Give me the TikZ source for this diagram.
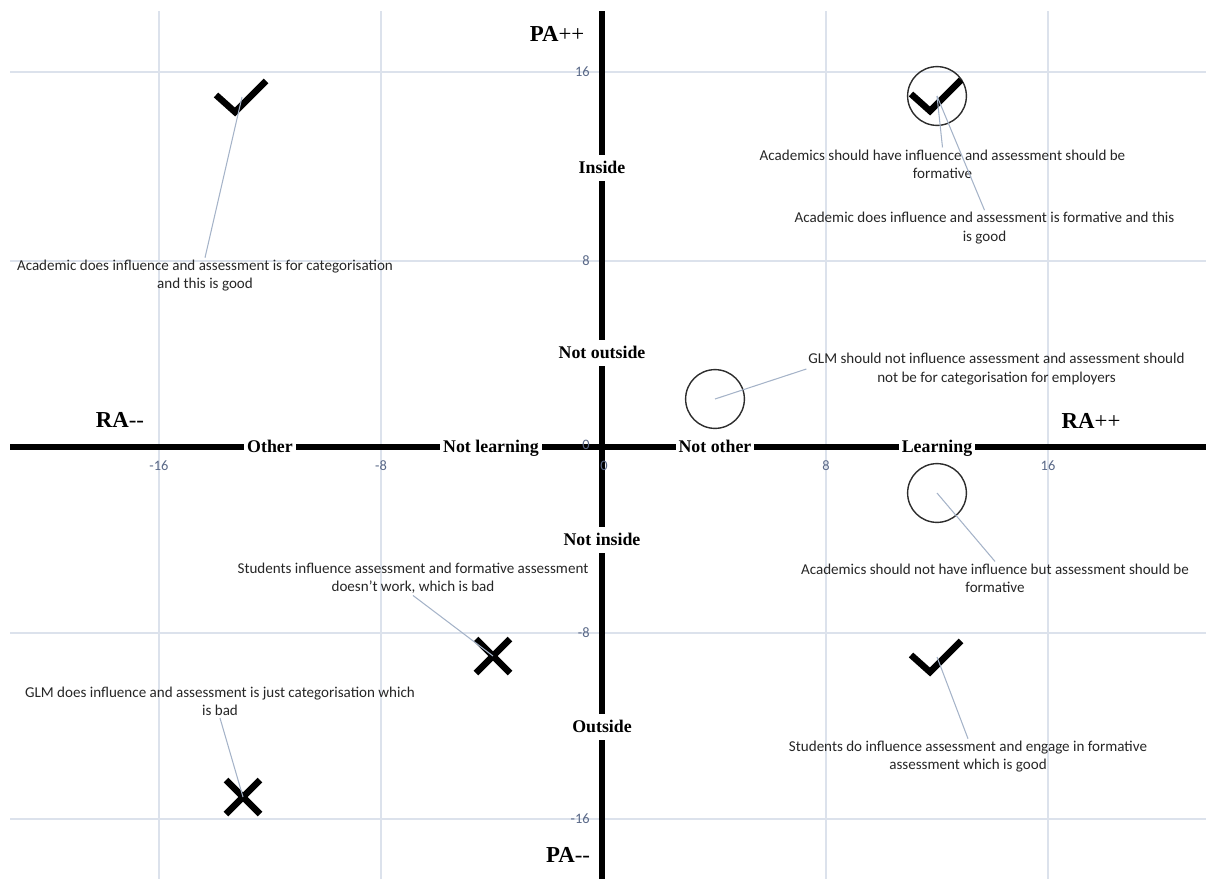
\documentclass[tikz,border=0pt]{standalone}
\usepackage{fontspec}
\setmainfont{Carlito}
\newfontfamily\tnr{Liberation Serif}
\definecolor{gridc}{RGB}{220,226,236}
\definecolor{tickc}{RGB}{89,104,135}
\definecolor{annc}{RGB}{38,38,38}
\definecolor{leadc}{RGB}{165,179,200}
\definecolor{ringc}{RGB}{45,45,45}
\begin{document}
\begin{tikzpicture}[x=0.02cm,y=-0.02cm,
  gridline/.style={draw=gridc, line width=0.75pt},
  axis/.style={draw=black, line width=3.97pt},
  axlabel/.style={font=\tnr\bfseries\fontsize{10.15}{12}\selectfont, fill=white, inner xsep=1.7pt, inner ysep=0pt, minimum height=15.3pt, text height=6.72pt, text depth=0pt},
  biglabel/.style={font=\tnr\fontsize{13}{15}\selectfont, inner sep=0pt, text height=8.6pt, text depth=0pt},
  ticklbl/.style={font=\fontsize{8.2}{10}\selectfont, text=tickc, inner sep=0pt},
  annot/.style={font=\fontsize{8.57}{10.43}\selectfont, align=center, text=annc, inner sep=1pt},
  leader/.style={draw=leadc, line width=0.6pt},
  symb/.style={draw=black, line width=3.7pt, line cap=butt, line join=miter},
  ring/.style={draw=ringc, line width=0.8pt}
]
\useasboundingbox (0,0) rectangle (1206,879);

% grid
\foreach \gx in {159,381,826,1048} \draw[gridline] (\gx,11) -- (\gx,879);
\foreach \gy in {72,261,633,819} \draw[gridline] (10,\gy) -- (1206,\gy);

% axes
\coordinate (xl) at (10,447);
\coordinate (xr) at (1206,447);
\coordinate (yt) at (602,11);
\coordinate (yb) at (602,879);
\draw[axis] (xl) -- (xr);
\draw[axis] (yt) -- (yb);

% tick labels
\node[ticklbl, anchor=east] (ty16) at (590,72) {16};
\node[ticklbl, anchor=east] (ty8) at (590,261) {8};
\node[ticklbl, anchor=east] (ty0) at (590,445) {0};
\node[ticklbl, anchor=east] (tym8) at (590,633) {-8};
\node[ticklbl, anchor=east] (tym16) at (590,819) {-16};
\node[ticklbl] (txm16) at (159,466) {-16};
\node[ticklbl] (txm8) at (381,466) {-8};
\node[ticklbl] (tx0) at (604,466) {0};
\node[ticklbl] (tx8) at (826,466) {8};
\node[ticklbl] (tx16) at (1048,466) {16};

% axis labels
\node[axlabel] (inside) at (602,168) {Inside};
\node[axlabel] (notoutside) at (602,353) {Not outside};
\node[axlabel] (notinside) at (602,540) {Not inside};
\node[axlabel] (outside) at (602,727) {Outside};
\node[axlabel] (other) at (270,447) {Other};
\node[axlabel] (notlearning) at (491,447) {Not learning};
\node[axlabel] (notother) at (715,447) {Not other};
\node[axlabel] (learning) at (937,447) {Learning};

\node[biglabel] (pap) at (557,34) {{\bfseries PA}++};
\node[biglabel] (pam) at (568,855) {{\bfseries PA}{-}{-}};
\node[biglabel] (ram) at (120,420) {{\bfseries RA}{-}{-}};
\node[biglabel] (rap) at (1091,421) {{\bfseries RA}++};

% markers
\coordinate (c1) at (242,97);
\coordinate (c2) at (937,96);
\coordinate (c3) at (937,657);
\coordinate (x1) at (493,656);
\coordinate (x2) at (243,797);
\node[ring, circle, minimum size=59pt*0.5669, inner sep=0pt] (r2) at (c2) {};
\node[ring, circle, minimum size=59pt*0.5669, inner sep=0pt] (r1) at (715,399) {};
\node[ring, circle, minimum size=59pt*0.5669, inner sep=0pt] (r3) at (937,493) {};

\draw[symb, shift={(c1)}] (-26,-2) -- (-7,15) -- (24,-16);
\draw[symb, shift={(c2)}] (-26,-2) -- (-7,15) -- (24,-16);
\draw[symb, shift={(c3)}] (-26,-2) -- (-7,15) -- (24,-16);
\draw[symb, shift={(x1)}] (-17,-17) -- (17,17) (-17,17) -- (17,-17);
\draw[symb, shift={(x2)}] (-17,-17) -- (17,17) (-17,17) -- (17,-17);

% annotations
\node[annot] (t1) at (205,275.5) {Academic does influence and assessment is for categorisation\\and this is good};
\node[annot] (t2) at (942.5,164) {Academics should have influence and assessment should be\\formative};
\node[annot] (t3) at (984.5,228) {Academic does influence and assessment is formative and this\\is good};
\node[annot] (t4) at (996.5,369) {GLM should not influence assessment and assessment should\\not be for categorisation for employers};
\node[annot] (t5) at (995,578) {Academics should not have influence but assessment should be\\formative};
\node[annot] (t6) at (413,578) {Students influence assessment and formative assessment\\doesn’t work, which is bad};
\node[annot] (t7) at (220,701.5) {GLM does influence and assessment is just categorisation which\\is bad};
\node[annot] (t8) at (968,756.5) {Students do influence assessment and engage in formative\\assessment which is good};

% leaders
\draw[leader] (c1) -- (t1.north);
\draw[leader] (r2.center) -- (t2.north);
\draw[leader] (r2.center) -- (t3.north);
\draw[leader] (r1.center) -- (t4.west);
\draw[leader] (r3.center) -- (t5.north);
\draw[leader] (t6.south) -- (x1);
\draw[leader] (t7.south) -- (x2);
\draw[leader] (c3) -- (t8.north);
\end{tikzpicture}
\end{document}
